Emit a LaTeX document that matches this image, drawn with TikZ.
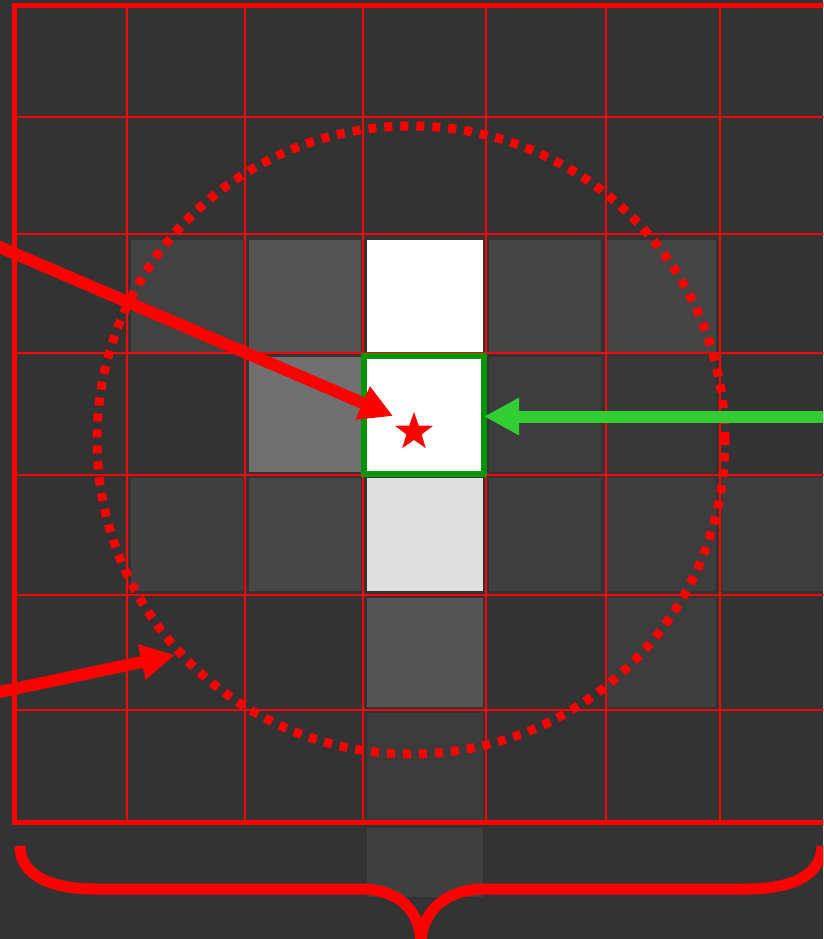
\documentclass[tikz,border=0pt]{standalone}
\usepackage{xcolor}
\usetikzlibrary{arrows.meta,shapes.geometric}
\definecolor{boxgreen}{RGB}{0,150,0}
\definecolor{arrowgreen}{RGB}{50,205,50}

\begin{document}
\begin{tikzpicture}[x=1pt,y=-1pt]
\useasboundingbox (0,0) rectangle (823,939);
\clip (0,0) rectangle (823,939);
\fill[white!20!black] (0,0) rectangle (823,939);

% pixels
\fill[white!26!black] (131,240) rectangle (243,352);
\fill[white!33!black] (249,240) rectangle (361,352);
\fill[white] (367,240) rectangle (483,352);
\fill[white!27!black] (489,240) rectangle (601,352);
\fill[white!27!black] (606,240) rectangle (716,352);

\fill[white!44!black] (249,357) rectangle (361,472);
\fill[white] (367,357) rectangle (483,472);
\fill[white!24!black] (489,357) rectangle (601,472);
\fill[white!22!black] (606,357) rectangle (716,472);

\fill[white!25!black] (131,478) rectangle (243,591);
\fill[white!28!black] (249,478) rectangle (361,591);
\fill[white!87!black] (367,478) rectangle (483,591);
\fill[white!25!black] (489,478) rectangle (601,591);
\fill[white!24!black] (606,478) rectangle (716,591);
\fill[white!24!black] (722,478) rectangle (823,591);

\fill[white!33!black] (367,598) rectangle (483,707);
\fill[white!24!black] (606,598) rectangle (716,707);

\fill[white!23!black] (367,713) rectangle (483,822);
\fill[white!25!black] (367,828) rectangle (483,897);

% grid
\draw[red, line width=2pt] (127,6) -- (127,822);
\draw[red, line width=2pt] (245,6) -- (245,822);
\draw[red, line width=2pt] (363,6) -- (363,822);
\draw[red, line width=2pt] (486,6) -- (486,822);
\draw[red, line width=2pt] (606,6) -- (606,822);
\draw[red, line width=2pt] (720,6) -- (720,822);

\draw[red, line width=2pt] (14,117) -- (830,117);
\draw[red, line width=2pt] (14,234) -- (830,234);
\draw[red, line width=2pt] (14,353) -- (830,353);
\draw[red, line width=2pt] (14,475) -- (830,475);
\draw[red, line width=2pt] (14,595) -- (830,595);
\draw[red, line width=2pt] (14,710) -- (830,710);

\draw[red, line width=5pt] (830,6) -- (14.5,6) -- (14.5,822) -- (830,822);

% window
\draw[red, line width=9pt, dash pattern=on 8pt off 8pt] (411,440) circle [radius=314pt];

\node[draw=boxgreen, line width=6pt, outer sep=0pt, minimum width=120pt, minimum height=118pt] (cell) at (424,414.5) {};
\node[star, star points=5, star point ratio=2.5, fill=red, minimum size=40pt, inner sep=0pt] (mark) at (414,432) {};

% arrows
\coordinate (in1) at (-10,243);
\coordinate (tip1) at (393,416);
\coordinate (in2) at (-10,694);
\coordinate (tip2) at (175,655);
\coordinate (in3) at (830,416.5);
\draw[red, line width=12pt, -{Triangle[length=33pt,width=34pt]}] (in1) -- (tip1);
\draw[red, line width=12pt, -{Triangle[length=34pt,width=34pt]}] (in2) -- (tip2);
\draw[arrowgreen, line width=12pt, -{Triangle[length=35pt,width=35pt]}] (in3) -- ([yshift=-2pt]cell.east);

% brace
\draw[red, line width=11pt] (20,846) .. controls (20,872) and (45,889) .. (95,889) -- (360,889) .. controls (400,889) and (421,912) .. (421,945);
\draw[red, line width=11pt] (822,846) .. controls (822,872) and (797,889) .. (747,889) -- (485,889) .. controls (445,889) and (421,912) .. (421,945);
\end{tikzpicture}
\end{document}
